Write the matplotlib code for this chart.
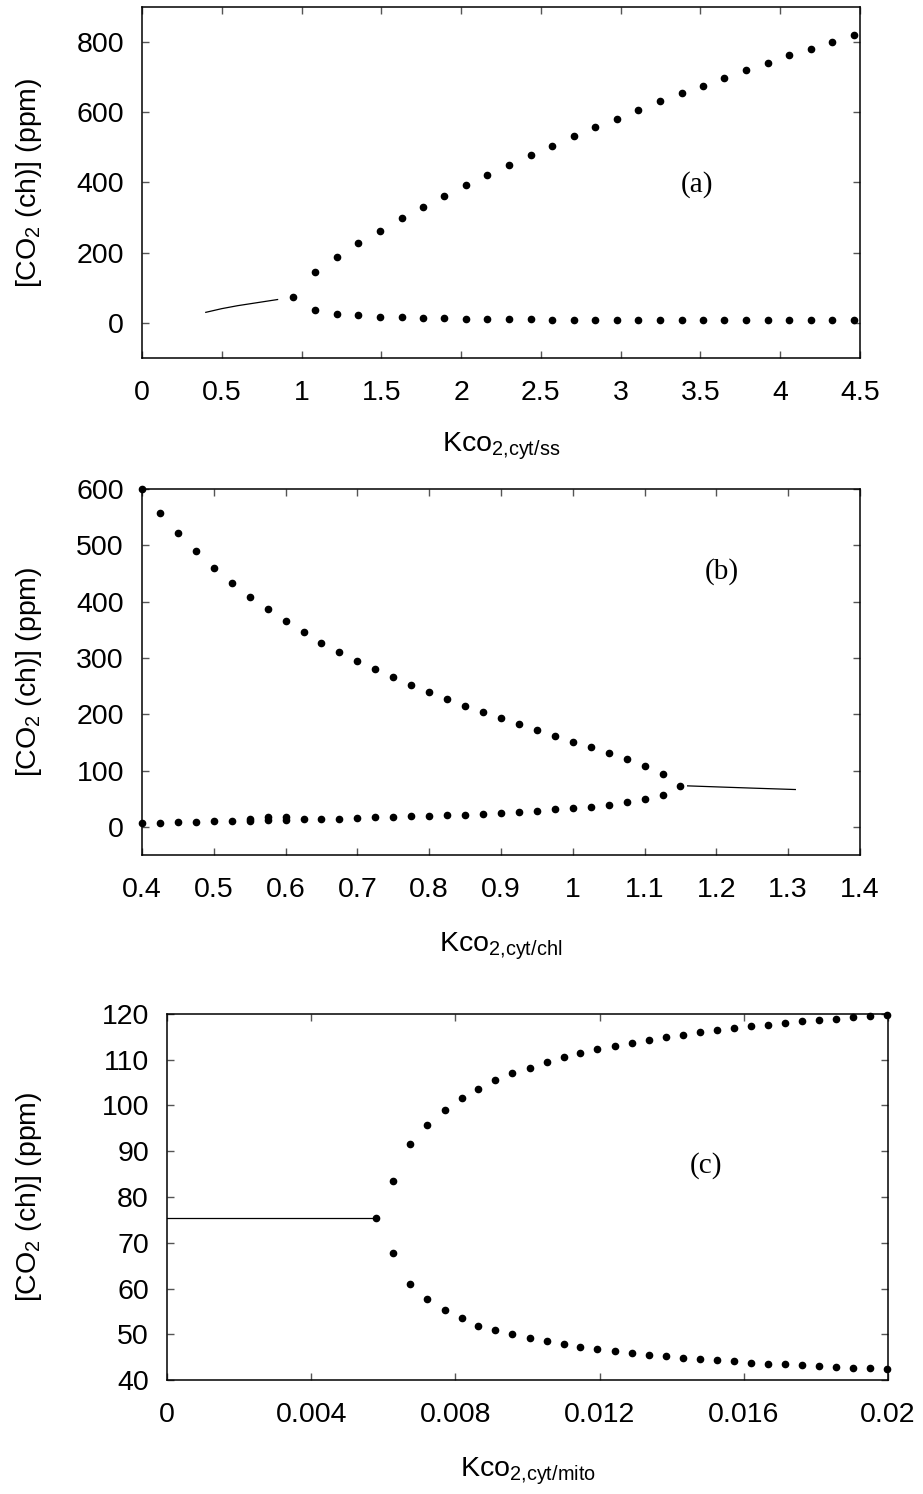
import numpy as np
import matplotlib
matplotlib.use('Agg')
import matplotlib.pyplot as plt
from matplotlib.ticker import FuncFormatter

plt.rcParams['font.family'] = ['Liberation Sans', 'DejaVu Sans']
plt.rcParams['mathtext.fontset'] = 'custom'
plt.rcParams['mathtext.rm'] = 'Liberation Sans'

# ---- panel (a): Kco2,cyt/ss ----
a_line_x = [0.40, 0.50, 0.60, 0.70, 0.85]
a_line_y = [30.0, 40.5, 49.0, 56.0, 66.5]
a_bif_x = [0.949]
a_bif_y = [73.0]
a_x = [1.084, 1.221, 1.355, 1.490, 1.627, 1.761, 1.896, 2.030, 2.164, 2.299,
       2.436, 2.570, 2.705, 2.839, 2.976, 3.111, 3.245, 3.382, 3.517, 3.651,
       3.785, 3.923, 4.057, 4.191, 4.325, 4.460]
a_upper = [144, 189, 227, 263, 298, 331, 362, 392, 422, 450,
           478, 505, 532, 558, 582, 607, 631, 654, 676, 698,
           720, 741, 762, 781, 801, 820]
a_lower = [36.0, 26.6, 22.0, 18.0, 16.0, 15.0, 13.0, 12.0, 11.4, 10.5,
           10.5, 9.5, 9.4, 9.2, 9.0, 8.9, 8.8, 8.6, 8.5, 8.4,
           8.3, 8.1, 8.0, 7.9, 7.8, 7.6]

# ---- panel (b): Kco2,cyt/chl ----
b_x = [0.400, 0.425, 0.450, 0.475, 0.500, 0.525, 0.550, 0.575, 0.600, 0.625,
       0.650, 0.675, 0.700, 0.725, 0.750, 0.775, 0.800, 0.825, 0.850, 0.875,
       0.900, 0.925, 0.950, 0.975, 1.000, 1.025, 1.050, 1.075, 1.100, 1.125]
b_upper = [600, 557, 521, 489, 460, 432.5, 408, 386, 365, 346,
           327, 311, 295, 280, 266, 252, 239, 227, 215, 204,
           193, 182, 172, 162, 151, 141, 131, 120, 108, 93]
b_lower = [7.7, 7.7, 8.3, 9.5, 10.0, 10.0, 11.0, 12.5, 13.0, 13.6,
           14.2, 14.8, 16.0, 17.2, 18.3, 18.9, 20.1, 20.7, 21.9, 23.1,
           25.4, 27.2, 29.0, 31.4, 33.1, 36.1, 39.0, 43.8, 49.1, 56.8]
b_extra_x = [0.550, 0.575, 0.600]
b_extra_y = [14.5, 17.0, 17.5]
b_bif_x = [1.150]
b_bif_y = [73.0]
b_line_x = [1.160, 1.200, 1.250, 1.310]
b_line_y = [72.8, 71.0, 68.8, 66.3]

# ---- panel (c): Kco2,cyt/mito ----
c_line_x = [0.0, 0.00581]
c_line_y = [75.3, 75.3]
c_bif_x = [0.00581]
c_bif_y = [75.3]
c_x = [0.00628, 0.00675, 0.00722, 0.00770, 0.00817, 0.00864, 0.00911, 0.00958,
       0.01006, 0.01053, 0.01100, 0.01147, 0.01194, 0.01242, 0.01289, 0.01336,
       0.01383, 0.01430, 0.01478, 0.01525, 0.01572, 0.01619, 0.01666, 0.01714,
       0.01761, 0.01808, 0.01855, 0.01902, 0.01950, 0.01997]
c_upper = [83.4, 91.6, 95.8, 99.1, 101.6, 103.7, 105.5, 107.1, 108.3, 109.5,
           110.6, 111.5, 112.3, 113.1, 113.7, 114.4, 115.0, 115.5, 116.0, 116.4,
           116.9, 117.3, 117.7, 118.1, 118.4, 118.7, 119.0, 119.3, 119.5, 119.7]
c_lower = [67.7, 61.0, 57.7, 55.2, 53.5, 51.9, 51.0, 50.0, 49.2, 48.5,
           47.9, 47.3, 46.8, 46.3, 45.9, 45.5, 45.2, 44.9, 44.6, 44.3,
           44.1, 43.8, 43.6, 43.4, 43.2, 43.0, 42.9, 42.7, 42.6, 42.4]

FS = 20.5
ylab = r'[CO$_\mathregular{2}$ (ch)] (ppm)'
dot = dict(ls='none', marker='o', ms=4.5, color='black', clip_on=False, zorder=3)

fig = plt.figure(figsize=(9.23, 14.94), dpi=100)
ax_a = fig.add_axes([0.1538, 0.7604, 0.7779, 0.2349])
ax_b = fig.add_axes([0.1538, 0.4277, 0.7779, 0.2450])
ax_c = fig.add_axes([0.1809, 0.0763, 0.7812, 0.2450])

fmt = FuncFormatter(lambda v, p: f'{v:g}')


def style(ax, ylab_x):
    ax.tick_params(direction='in', length=5, width=1.0, color='#555555',
                   top=True, right=True, labelsize=FS)
    ax.tick_params(axis='x', pad=16)
    ax.tick_params(axis='y', pad=13)
    for s in ax.spines.values():
        s.set_linewidth(1.1)
    ax.xaxis.set_major_formatter(fmt)
    ax.set_ylabel(ylab, fontsize=FS)
    ax.xaxis.set_label_coords(0.5, -0.205)
    ax.yaxis.set_label_coords(ylab_x, 0.5)


# (a)
ax_a.plot(a_line_x, a_line_y, color='black', lw=0.9)
ax_a.plot(a_bif_x, a_bif_y, **dot)
ax_a.plot(a_x, a_upper, **dot)
ax_a.plot(a_x, a_lower, **dot)
ax_a.set_xlim(0, 4.5)
ax_a.set_ylim(-100, 900)
ax_a.set_xticks(np.arange(0, 4.51, 0.5))
ax_a.set_yticks([0, 200, 400, 600, 800])
ax_a.set_xlabel(r'Kco$_\mathregular{2{,}cyt/ss}$', fontsize=FS)
style(ax_a, -0.136)
ax_a.text(0.773, 0.493, '(a)', transform=ax_a.transAxes, fontsize=21,
          family='Liberation Serif', ha='center', va='center')

# (b)
ax_b.plot(b_line_x, b_line_y, color='black', lw=0.9)
ax_b.plot(b_bif_x, b_bif_y, **dot)
ax_b.plot(b_x, b_upper, **dot)
ax_b.plot(b_x, b_lower, **dot)
ax_b.plot(b_extra_x, b_extra_y, **dot)
ax_b.set_xlim(0.4, 1.4)
ax_b.set_ylim(-50, 600)
ax_b.set_xticks(np.arange(0.4, 1.401, 0.1))
ax_b.set_yticks(np.arange(0, 601, 100))
ax_b.set_xlabel(r'Kco$_\mathregular{2{,}cyt/chl}$', fontsize=FS)
style(ax_b, -0.136)
ax_b.text(0.808, 0.774, '(b)', transform=ax_b.transAxes, fontsize=21,
          family='Liberation Serif', ha='center', va='center')

# (c)
ax_c.plot(c_line_x, c_line_y, color='black', lw=0.9)
ax_c.plot(c_bif_x, c_bif_y, **dot)
ax_c.plot(c_x, c_upper, **dot)
ax_c.plot(c_x, c_lower, **dot)
ax_c.set_xlim(0, 0.02)
ax_c.set_ylim(40, 120)
ax_c.set_xticks([0, 0.004, 0.008, 0.012, 0.016, 0.02])
ax_c.set_yticks(np.arange(40, 121, 10))
ax_c.set_xlabel(r'Kco$_\mathregular{2{,}cyt/mito}$', fontsize=FS)
style(ax_c, -0.171)
ax_c.text(0.748, 0.587, '(c)', transform=ax_c.transAxes, fontsize=21,
          family='Liberation Serif', ha='center', va='center')

fig.savefig('out.png', dpi=100)
